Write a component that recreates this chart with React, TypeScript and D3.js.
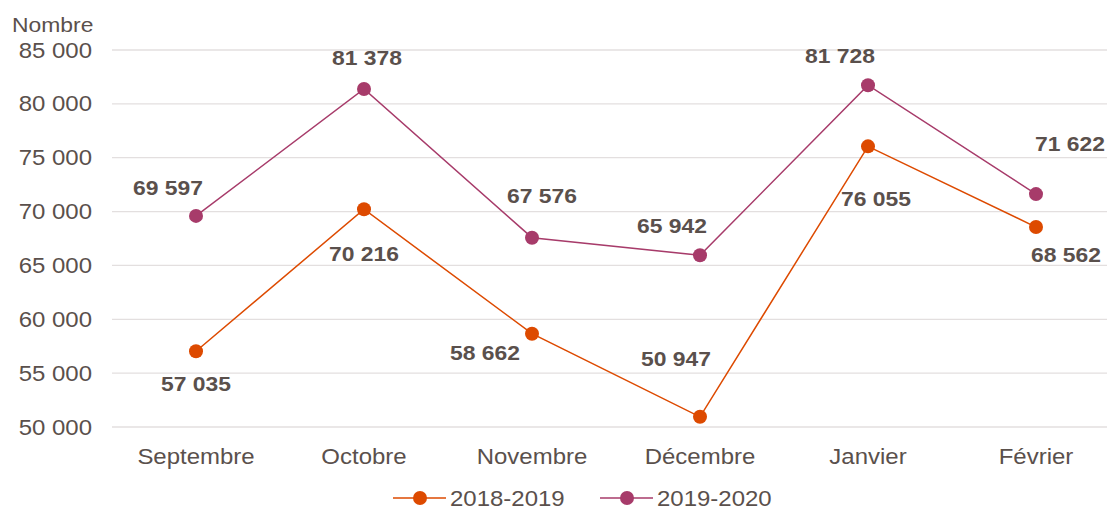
import * as d3 from 'd3';

const MONTHS = ['Septembre', 'Octobre', 'Novembre', 'Décembre', 'Janvier', 'Février'];
const SERIES_NAMES = ['2018-2019', '2019-2020'];
const VALUES_2018 = [57035, 70216, 58662, 50947, 76055, 68562];
const VALUES_2019 = [69597, 81378, 67576, 65942, 81728, 71622];
const Y_TICKS = [50000, 55000, 60000, 65000, 70000, 75000, 80000, 85000];
// where each data label sits relative to its point
const PLACE_2018 = ['below', 'below', 'left', 'aboveLeft', 'below', 'belowRight'];
const PLACE_2019 = ['aboveLeft', 'above', 'aboveRight', 'aboveLeft', 'aboveLeft', 'aboveRight'];

const COLORS = ['#dd4a00', '#a73b6a'];
const TEXT = '#5a504c';
const FONT = '"Liberation Sans", Arial, sans-serif';

const W = 1107, H = 510;
const left = 112, right = 1120, top = 50, bottom = 427;

const fmt = (v: number) => d3.format(',')(v).replace(/,/g, ' ');

const OFFSETS: Record<string, [number, number, string]> = {
  below: [0, 40, 'middle'],
  above: [3, -24, 'middle'],
  left: [-12, 26, 'end'],
  aboveLeft: [-28, -22, 'middle'],
  aboveRight: [10, -36, 'middle'],
  belowRight: [30, 35, 'middle'],
};

// the original text is slightly stretched horizontally
function T({ x, y, anchor = 'start', size = 22, bold = false, children }: any) {
  return (
    <text transform={`translate(${x},${y}) scale(1.09,1)`} textAnchor={anchor} fontSize={size}
      fontWeight={bold ? 'bold' : 'normal'} fill={TEXT}>{children}</text>
  );
}

export default function App() {
  const x = d3.scaleBand<string>().domain(MONTHS).range([left, right]);
  const y = d3.scaleLinear().domain([50000, 85000]).range([bottom, top]);
  const cx = (m: string) => (x(m) ?? 0) + x.bandwidth() / 2;
  const line = d3.line<number>().x((_, i) => cx(MONTHS[i])).y(d => y(d));

  const series = [
    { name: SERIES_NAMES[0], values: VALUES_2018, place: PLACE_2018, color: COLORS[0] },
    { name: SERIES_NAMES[1], values: VALUES_2019, place: PLACE_2019, color: COLORS[1] },
  ];

  // small tweaks per label to match the original placement
  const tweak = (si: number, i: number): [number, number] => {
    if (si === 0 && i === 1) return [0, 12];
    if (si === 0 && i === 3) return [4, -29];
    if (si === 0 && i === 4) return [8, 20];
    if (si === 1 && i === 0) return [0, 1];
    if (si === 1 && i === 2) return [0, 1];
    if (si === 1 && i === 5) return [24, -7];
    return [0, 0];
  };

  const legendX = [393, 600];

  return (
    <svg width={W} height={H} style={{ position: 'absolute', left: 0, top: 0 }} fontFamily={FONT}>
      <rect width={W} height={H} fill="#fff" />
      <T x={12} y={32} size={21}>Nombre</T>
      {Y_TICKS.map(t => (
        <g key={t}>
          <line x1={left} x2={right} y1={y(t)} y2={y(t)} stroke="#e3dfdf" strokeWidth={1.3} />
          <T x={92} y={y(t) + 7.5} anchor="end">{fmt(t)}</T>
        </g>
      ))}
      {MONTHS.map(m => (
        <T key={m} x={cx(m)} y={464} anchor="middle">{m}</T>
      ))}
      {series.map((s, si) => (
        <g key={s.name}>
          <path d={line(s.values) ?? ''} fill="none" stroke={s.color} strokeWidth={1.5} />
          {s.values.map((v, i) => (
            <circle key={i} cx={cx(MONTHS[i])} cy={y(v)} r={7} fill={s.color} />
          ))}
          {s.values.map((v, i) => {
            const [dx, dy, anchor] = OFFSETS[s.place[i]];
            const [tx, ty] = tweak(si, i);
            return (
              <T key={'l' + i} x={cx(MONTHS[i]) + dx + tx} y={y(v) + dy + ty} anchor={anchor}
                size={21} bold>{fmt(v)}</T>
            );
          })}
        </g>
      ))}
      {series.map((s, si) => (
        <g key={'lg' + si} transform={`translate(${legendX[si]},498)`}>
          <line x1={0} x2={53} y1={0} y2={0} stroke={s.color} strokeWidth={1.5} />
          <circle cx={27} cy={0} r={7} fill={s.color} />
          <T x={57} y={7.5}>{s.name}</T>
        </g>
      ))}
    </svg>
  );
}
